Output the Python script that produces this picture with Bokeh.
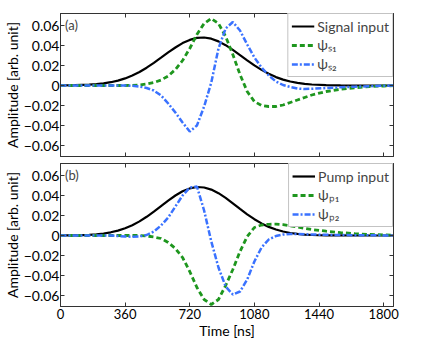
from bokeh.plotting import figure
from bokeh.models import (LinearAxis, FixedTicker, Legend, LegendItem, Label, Range1d,
                          CustomLabelingPolicy)
from bokeh.layouts import column
from bokeh.embed import file_html
from bokeh.resources import INLINE

time_ns = [0, 80, 160, 200, 240, 280, 320, 360, 400, 440, 480, 520, 560, 600, 640, 680,
           720, 760, 800, 840, 880, 920, 960, 1000, 1040, 1080, 1120, 1160, 1200, 1240,
           1280, 1320, 1360, 1400, 1480, 1560, 1640, 1720, 1800, 1860]

signal_input = [0.0001, 0.0003, 0.0008, 0.0013, 0.0021, 0.0033, 0.0049, 0.0071, 0.0100, 0.0135,
                0.0178, 0.0226, 0.0278, 0.0331, 0.0380, 0.0424, 0.0456, 0.0476, 0.0480, 0.0468,
                0.0441, 0.0403, 0.0356, 0.0304, 0.0252, 0.0201, 0.0156, 0.0117, 0.0084, 0.0059,
                0.0040, 0.0026, 0.0017, 0.0010, 0.0004, 0.0001, 0.0, 0.0, 0.0, 0.0]
psi_s1 = [0.0, 0.0, 0.0, 0.0, 0.0, 0.0, 0.0, 0.0, 0.0002, 0.0005,
          0.0015, 0.003, 0.0055, 0.0095, 0.016, 0.025, 0.037, 0.051, 0.062, 0.067,
          0.062, 0.049, 0.031, 0.011, -0.006, -0.016, -0.020, -0.021, -0.021, -0.0195,
          -0.017, -0.0145, -0.012, -0.0095, -0.006, -0.0037, -0.0022, -0.0011, -0.0005, -0.0002]
psi_s2 = [0.0, 0.0, 0.0, 0.0, 0.0, 0.0, 0.0, 0.0, -0.0003, -0.001,
          -0.0025, -0.005, -0.010, -0.018, -0.027, -0.037, -0.046, -0.040, -0.021, 0.003,
          0.037, 0.057, 0.0635, 0.055, 0.041, 0.028, 0.018, 0.010, 0.004, 0.0005,
          -0.0015, -0.003, -0.0035, -0.0033, -0.0025, -0.0018, -0.0012, -0.0007, -0.0003, -0.0001]

pump_input = [0.0001, 0.0002, 0.0007, 0.0012, 0.0020, 0.0032, 0.0049, 0.0072, 0.0103, 0.0141,
              0.0187, 0.0239, 0.0294, 0.0349, 0.0400, 0.0442, 0.0471, 0.0485, 0.0480, 0.0459,
              0.0423, 0.0376, 0.0322, 0.0266, 0.0212, 0.0163, 0.0121, 0.0086, 0.0060, 0.0040,
              0.0025, 0.0016, 0.0009, 0.0005, 0.0002, 0.0001, 0.0, 0.0, 0.0, 0.0]
psi_p1 = [0.0, 0.0, 0.0, 0.0, 0.0, 0.0, 0.0, 0.0, 0.0, 0.0,
          -0.0005, -0.0015, -0.003, -0.007, -0.013, -0.022, -0.036, -0.052, -0.064, -0.069,
          -0.064, -0.050, -0.034, -0.016, -0.001, 0.008, 0.0105, 0.0112, 0.0113, 0.0108,
          0.0097, 0.0085, 0.0072, 0.006, 0.0043, 0.0029, 0.0018, 0.0011, 0.0006, 0.0003]
psi_p2 = [0.0, 0.0, 0.0, 0.0, 0.0, 0.0, -0.0005, -0.001, -0.0012, -0.001,
          0.0005, 0.004, 0.010, 0.018, 0.029, 0.040, 0.048, 0.049, 0.025, -0.006,
          -0.032, -0.051, -0.059, -0.056, -0.044, -0.026, -0.012, -0.004, -0.0005, 0.001,
          0.0015, 0.0015, 0.0012, 0.001, 0.0007, 0.0005, 0.0003, 0.0002, 0.0001, 0.0]

x_ticks = [0, 360, 720, 1080, 1440, 1800]
y_ticks = [-0.06, -0.04, -0.02, 0, 0.02, 0.04, 0.06]
y_tick_labels = ["\u22120.06", "\u22120.04", "\u22120.02", "0", "0.02", "0.04", "0.06"]

FONT = "Lato"
FRAME = "#333333"
GREEN = "#1e961e"
BLUE = "#3a72ff"


def style_axis(ax, show_labels, size="14px"):
    ax.axis_line_color = FRAME
    ax.major_tick_line_color = FRAME
    ax.major_tick_in = 4
    ax.major_tick_out = 0
    ax.minor_tick_line_color = None
    ax.major_label_text_font = FONT
    ax.axis_label_text_font = FONT
    ax.axis_label_text_font_style = "normal"
    ax.axis_label_text_color = "black"
    ax.major_label_text_color = "black"
    if show_labels:
        ax.major_label_text_font_size = size
        ax.major_label_standoff = 1
    else:
        ax.major_label_policy = CustomLabelingPolicy(code="return []")
        ax.major_label_text_font_size = "0px"
        ax.major_label_standoff = 0


def panel(series, names, tag, is_top):
    p = figure(frame_width=333, frame_height=143,
               output_backend="svg", toolbar_location=None,
               x_range=Range1d(0, 1855), y_range=Range1d(-0.071, 0.072),
               min_border_left=58, min_border_right=20,
               min_border_top=13 if is_top else 0,
               min_border_bottom=7 if is_top else 35)
    p.grid.visible = False
    p.outline_line_color = FRAME
    p.background_fill_color = "white"
    p.border_fill_color = "white"

    p.xaxis.ticker = FixedTicker(ticks=x_ticks)
    p.yaxis.ticker = FixedTicker(ticks=y_ticks)
    p.yaxis.major_label_overrides = dict(zip(y_ticks, y_tick_labels))
    style_axis(p.xaxis[0], not is_top, "13px")
    style_axis(p.yaxis[0], True, "14px")
    p.yaxis.axis_label = "Amplitude [arb. unit]"
    p.yaxis.axis_label_text_font_size = "14px"
    p.yaxis.axis_label_standoff = 0
    if not is_top:
        p.xaxis.axis_label = "Time [ns]"
        p.xaxis.axis_label_text_font_size = "14px"
        p.xaxis.axis_label_standoff = 0
        p.xaxis.major_label_standoff = 2

    ra = LinearAxis(ticker=FixedTicker(ticks=y_ticks))
    style_axis(ra, False)
    p.add_layout(ra, "right")
    ta = LinearAxis(ticker=FixedTicker(ticks=x_ticks))
    style_axis(ta, False)
    p.add_layout(ta, "above")

    r0 = p.line(time_ns, series[0], line_color="black", line_width=2.2)
    r1 = p.line(time_ns, series[1], line_color=GREEN, line_width=2.8, line_dash="5 3")
    r2 = p.line(time_ns, series[2], line_color=BLUE, line_width=2.5, line_dash="6 2 2 2")

    legend = Legend(items=[LegendItem(label=names[0], renderers=[r0]),
                           LegendItem(label=names[1], renderers=[r1]),
                           LegendItem(label=names[2], renderers=[r2])],
                    location="top_right", margin=0, padding=3, spacing=0,
                    glyph_width=23, glyph_height=18, label_height=18, label_standoff=3,
                    label_text_font=FONT, label_text_font_size="14px",
                    border_line_color="#888888", background_fill_alpha=1.0)
    p.add_layout(legend)

    p.add_layout(Label(x=25, y=0.061, text=tag, text_font=FONT, text_font_size="13px",
                       text_baseline="middle"))
    return p


p1 = panel([signal_input, psi_s1, psi_s2], ["Signal input", "\u03c8\u209b\u2081", "\u03c8\u209b\u2082"], "(a)", True)
p2 = panel([pump_input, psi_p1, psi_p2], ["Pump input", "\u03c8\u209a\u2081", "\u03c8\u209a\u2082"], "(b)", False)

layout = column(p1, p2, spacing=0)
open("out.html", "w").write(file_html(layout, INLINE))
